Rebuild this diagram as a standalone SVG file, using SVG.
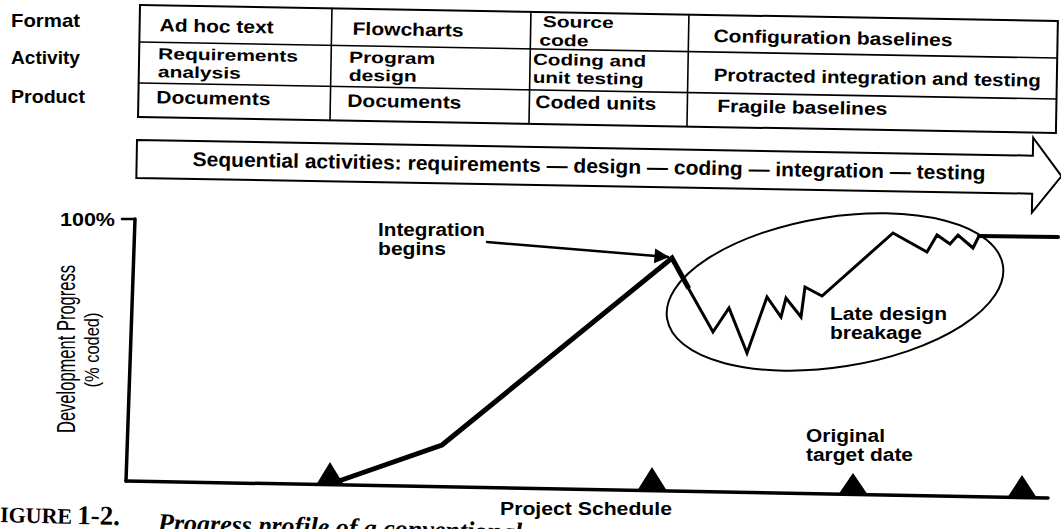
<svg xmlns="http://www.w3.org/2000/svg" width="1061" height="529" viewBox="0 0 1061 529">
<defs>
<style>
.t{font-family:"Liberation Sans",Arial,Helvetica,sans-serif;font-weight:bold;fill:#000}
.s16{font-size:16px}
.s18{font-size:18px}
.s19{font-size:19px}
.s20{font-size:20px}
.box{fill:#fff;stroke:#000;stroke-width:2}
.ln{fill:none;stroke:#000;stroke-linejoin:miter;stroke-linecap:round}
.cap{font-family:"Liberation Serif","Times New Roman",serif;font-weight:bold;fill:#000}
</style>
<marker id="ah" viewBox="0 0 10 10" refX="9" refY="5" markerWidth="8" markerHeight="6" markerUnits="strokeWidth" orient="auto">
<path d="M0,0 L10,5 L0,10 Z" fill="#000"/>
</marker>
</defs>
<rect width="1061" height="529" fill="#fff"/>

<g id="row-labels" class="t s19">
<text x="11" y="27" textLength="69" lengthAdjust="spacingAndGlyphs">Format</text>
<text x="11" y="64" textLength="69" lengthAdjust="spacingAndGlyphs">Activity</text>
<text x="11" y="103" textLength="74" lengthAdjust="spacingAndGlyphs">Product</text>
</g>

<g id="table" transform="rotate(1 140 5)">
<rect class="box" x="140" y="5" width="918" height="112"/>
<g class="ln" stroke-width="1.6">
<line x1="140" y1="42" x2="1058" y2="42"/>
<line x1="140" y1="83" x2="1058" y2="83"/>
<line x1="332" y1="5" x2="332" y2="117"/>
<line x1="531" y1="5" x2="531" y2="117"/>
<line x1="689" y1="5" x2="689" y2="117"/>
</g>
<g class="t s18">
<text x="160" y="31" textLength="114" lengthAdjust="spacingAndGlyphs">Ad hoc text</text>
<text x="353" y="31" textLength="111" lengthAdjust="spacingAndGlyphs">Flowcharts</text>
<text x="714" y="32" textLength="239" lengthAdjust="spacingAndGlyphs">Configuration baselines</text>
<text x="715" y="71" textLength="327" lengthAdjust="spacingAndGlyphs">Protracted integration and testing</text>
<text x="158" y="103" textLength="114" lengthAdjust="spacingAndGlyphs">Documents</text>
<text x="349" y="103" textLength="114" lengthAdjust="spacingAndGlyphs">Documents</text>
<text x="537" y="101" textLength="121" lengthAdjust="spacingAndGlyphs">Coded units</text>
<text x="719" y="102" textLength="170" lengthAdjust="spacingAndGlyphs">Fragile baselines</text>
</g>
<g class="t s16">
<text x="543" y="20" textLength="71" lengthAdjust="spacingAndGlyphs">Source</text>
<text x="540" y="38.5" textLength="49" lengthAdjust="spacingAndGlyphs">code</text>
<text x="159" y="59" textLength="140" lengthAdjust="spacingAndGlyphs">Requirements</text>
<text x="159" y="77" textLength="83" lengthAdjust="spacingAndGlyphs">analysis</text>
<text x="350" y="59" textLength="86" lengthAdjust="spacingAndGlyphs">Program</text>
<text x="350" y="77" textLength="68" lengthAdjust="spacingAndGlyphs">design</text>
<text x="534" y="58" textLength="113" lengthAdjust="spacingAndGlyphs">Coding and</text>
<text x="534" y="76" textLength="111" lengthAdjust="spacingAndGlyphs">unit testing</text>
</g>
</g>

<g id="sequence-arrow" transform="rotate(1 137 140)">
<path class="box" stroke-width="1.8" d="M137,140 L1033,140 L1033,122 L1062,160 L1033,197 L1033,178 L137,178 Z"/>
<text class="t s20" x="193" y="165" textLength="793" lengthAdjust="spacingAndGlyphs">Sequential activities: requirements — design — coding — integration — testing</text>
</g>

<g id="axes">
<line class="ln" stroke-width="3.5" x1="135" y1="219" x2="126" y2="481"/>
<line class="ln" stroke-width="3.5" x1="126" y1="481" x2="1048" y2="498"/>
<line class="ln" stroke-width="2.5" x1="122" y1="219" x2="135" y2="219"/>
<text class="t" font-size="19" x="115" y="226" text-anchor="end" textLength="55" lengthAdjust="spacingAndGlyphs">100%</text>
</g>

<g id="y-label">
<text class="t" style="font-weight:normal" font-size="25" text-anchor="middle" transform="translate(75 349) rotate(-90)" textLength="168" lengthAdjust="spacingAndGlyphs">Development Progress</text>
<text class="t" style="font-weight:normal" font-size="21" text-anchor="middle" transform="translate(99 350) rotate(-90)" textLength="75" lengthAdjust="spacingAndGlyphs">(% coded)</text>
</g>

<g id="milestones" fill="#000">
<polygon points="330,462 316,485 344,485"/>
<polygon points="652,467 637,491 667,491"/>
<polygon points="853,473 838,495 868,495"/>
<polygon points="1022,475 1007,498 1037,498"/>
</g>

<g id="late-design-breakage">
<ellipse class="ln" stroke-width="2" cx="835" cy="292" rx="170" ry="75" transform="rotate(-9 835 292)"/>
<text class="t s18" x="830" y="320" textLength="117" lengthAdjust="spacingAndGlyphs">Late design</text>
<text class="t s18" x="830" y="339" textLength="92" lengthAdjust="spacingAndGlyphs">breakage</text>
</g>

<g id="connectors">
<path class="ln" stroke-width="5" d="M336,482 L442,445 L672,258 L688,287"/>
<path class="ln" stroke-width="3" d="M686,284 L713,332 L729,308 L747,353 L767,297 L781,317 L786,298 L801,317 L805,287 L822,296 L893,233 L927,252 L937,235 L950,244 L958,235 L973,248 L979,236"/>
<path class="ln" stroke-width="4" d="M979,236 L1058,237"/>
<line class="ln" stroke-width="2.5" x1="487" y1="242" x2="668" y2="257" marker-end="url(#ah)"/>
</g>

<g id="labels" class="t s18">
<text x="378" y="236" textLength="107" lengthAdjust="spacingAndGlyphs">Integration</text>
<text x="378" y="255" textLength="68" lengthAdjust="spacingAndGlyphs">begins</text>
<text x="806" y="442" textLength="79" lengthAdjust="spacingAndGlyphs">Original</text>
<text x="806" y="461" textLength="107" lengthAdjust="spacingAndGlyphs">target date</text>
<text x="500" y="515" textLength="172" lengthAdjust="spacingAndGlyphs">Project Schedule</text>
</g>

<g id="caption" transform="rotate(1.5 0 522)">
<text class="cap" font-size="22" x="0" y="522" textLength="72" lengthAdjust="spacingAndGlyphs">IGURE</text>
<text class="cap" font-size="27" x="77" y="522">1-2.</text>
<text class="cap" font-size="26" font-style="italic" x="158" y="527">Progress profile of a conventional</text>
</g>
</svg>
